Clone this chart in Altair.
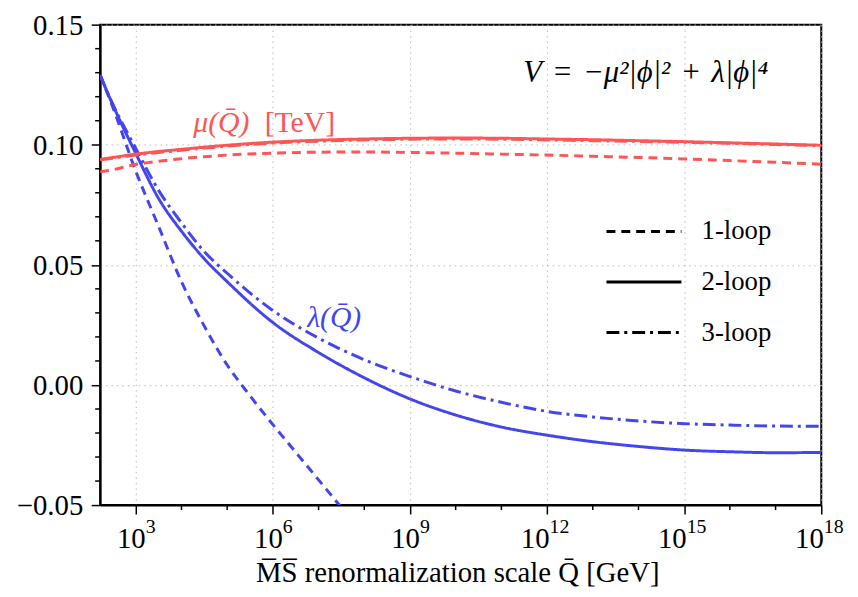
import altair as alt
import pandas as pd

# ---------------- data ----------------
logq = [2.22, 2.5, 3, 3.5, 4, 4.5, 5, 6, 7, 8, 9, 10, 11, 12, 13, 14, 15, 16, 17, 18]

lam_2loop = [0.129, 0.1165, 0.0964, 0.0776, 0.0640, 0.0525, 0.0430, 0.0260, 0.0135, 0.0030,
             -0.0058, -0.0125, -0.0175, -0.0209, -0.0236, -0.0256, -0.0271, -0.0278, -0.0282, -0.0281]
lam_3loop = [0.129, 0.1168, 0.0985, 0.0810, 0.0675, 0.0555, 0.0465, 0.0310, 0.0195, 0.0105,
             0.0035, -0.0025, -0.0072, -0.0110, -0.0133, -0.0150, -0.0161, -0.0167, -0.0171, -0.0172]

logq_lam1 = [2.22, 2.5, 3, 3.5, 4, 4.5, 5, 5.5, 6, 6.5, 7, 7.5, 8]
lam_1loop = [0.129, 0.1155, 0.089, 0.066, 0.043, 0.0245, 0.0083, -0.0045, -0.0165, -0.028, -0.0395, -0.051, -0.062]

mu_1loop = [0.0887, 0.0896, 0.0918, 0.0931, 0.0942, 0.0950, 0.0957, 0.0965, 0.0969, 0.0970,
            0.0968, 0.0965, 0.0961, 0.0957, 0.0952, 0.0947, 0.0941, 0.0934, 0.0927, 0.0919]
mu_2loop = [0.0939, 0.0947, 0.0961, 0.0972, 0.0981, 0.0990, 0.0998, 0.1011, 0.1019, 0.1024,
            0.1027, 0.1028, 0.1027, 0.1024, 0.1021, 0.1017, 0.1013, 0.1008, 0.1003, 0.0998]
mu_3loop = [0.0937, 0.0944, 0.0957, 0.0968, 0.0977, 0.0986, 0.0994, 0.1007, 0.1015, 0.1020,
            0.1023, 0.1024, 0.1023, 0.1020, 0.1017, 0.1014, 0.1010, 0.1006, 0.1001, 0.0996]

loops = ["1-loop", "2-loop", "3-loop"]
quantities = ["mu", "lambda"]
series_colors = ["#ff5555", "#4545ee"]
dash_patterns = [[9, 6], [1, 0], [13, 5, 3, 5]]

x_major_exp = [3, 6, 9, 12, 15, 18]
x_minor_exp = [4, 5, 7, 8, 10, 11, 13, 14, 16, 17]
y_major = [-0.05, 0.0, 0.05, 0.10, 0.15]
y_major_labels = ["\u22120.05", "0.00", "0.05", "0.10", "0.15"]
y_minor = [-0.04, -0.03, -0.02, -0.01, 0.01, 0.02, 0.03, 0.04, 0.06, 0.07, 0.08, 0.09,
           0.11, 0.12, 0.13, 0.14]
x_title = "M\u0305S\u0305 renormalization scale Q\u0304 [GeV]"

# legend rows and annotations (data coordinates)
legend_y = [0.0639, 0.0429, 0.0218]
legend_x_exp = [13.30, 14.94]
legend_label_exp = 15.38

FONT = "Liberation Serif"

# ---------------- tables ----------------
rows = []
def add(qs, vals, quantity, loop):
    for lq, v in zip(qs, vals):
        rows.append({"q": 10 ** lq, "value": v, "quantity": quantity, "loop": loop,
                     "series": quantity + loop})
add(logq_lam1, lam_1loop, "lambda", "1-loop")
add(logq, lam_2loop, "lambda", "2-loop")
add(logq, lam_3loop, "lambda", "3-loop")
add(logq, mu_1loop, "mu", "1-loop")
add(logq, mu_2loop, "mu", "2-loop")
add(logq, mu_3loop, "mu", "3-loop")
df = pd.DataFrame(rows)

xscale = alt.Scale(type="log", domain=[10 ** 2.22, 1e18])
yscale = alt.Scale(domain=[-0.05, 0.15])
dash_scale = alt.Scale(domain=loops, range=dash_patterns)

x_axis = alt.Axis(values=[10 ** e for e in x_major_exp], labels=False, tickSize=9, tickWidth=1.5,
                  tickColor="black", domainColor="black", domainWidth=2,
                  grid=True, gridDash=[1.5, 4], gridColor="#bbbbbb", gridWidth=1, title=None)
y_axis = alt.Axis(values=y_major, labels=False, tickSize=9, tickWidth=1.5, tickColor="black",
                  domainColor="black", domainWidth=2,
                  grid=True, gridDash=[1.5, 4], gridColor="#bbbbbb", gridWidth=1, title=None)

def X(field):
    return alt.X(field, scale=xscale, axis=x_axis)

def Y(field):
    return alt.Y(field, scale=yscale, axis=y_axis)

lines = alt.Chart(df).mark_line(strokeWidth=3, clip=True, interpolate="monotone").encode(
    x=X("q:Q"),
    y=Y("value:Q"),
    color=alt.Color("quantity:N", scale=alt.Scale(domain=quantities, range=series_colors), legend=None),
    strokeDash=alt.StrokeDash("loop:N", scale=dash_scale, legend=None),
    detail="series:N",
    order="q:Q",
)

# minor ticks
xminor_df = pd.DataFrame({"q": [10 ** e for e in x_minor_exp]})
xminor = alt.Chart(xminor_df).mark_rule(color="black", strokeWidth=1.5).encode(
    x=X("q:Q"), y=alt.value(485), y2=alt.value(490))
yminor_df = pd.DataFrame({"v": y_minor})
yminor = alt.Chart(yminor_df).mark_rule(color="black", strokeWidth=1.5).encode(
    y=Y("v:Q"), x=alt.value(-5), x2=alt.value(0))

# y tick labels
yl_df = pd.DataFrame({"v": y_major, "label": y_major_labels})
ylabels = alt.Chart(yl_df).mark_text(align="right", baseline="middle", font=FONT, fontSize=29,
                                     color="black", dy=1).encode(
    y=Y("v:Q"), x=alt.value(-17), text="label:N")

# x tick labels 10^n
xl_df = pd.DataFrame({"q": [10 ** e for e in x_major_exp],
                      "base": ["10"] * len(x_major_exp),
                      "exp": [str(e) for e in x_major_exp],
                      "two": [e >= 10 for e in x_major_exp]})
def tick_labels(two, dx):
    sub = xl_df[xl_df["two"] == two]
    base = alt.Chart(sub).mark_text(align="right", baseline="alphabetic", dx=dx, font=FONT,
                                    fontSize=29, color="black").encode(
        x=X("q:Q"), y=alt.value(528), text="base:N")
    expo = alt.Chart(sub).mark_text(align="left", baseline="alphabetic", dx=dx, font=FONT,
                                    fontSize=20, color="black").encode(
        x=X("q:Q"), y=alt.value(513), text="exp:N")
    return base + expo
xlabels1 = tick_labels(False, 10)
xlabels2 = tick_labels(True, 2.5)

# x axis title
title_df = pd.DataFrame({"text": [x_title]})
xtitle = alt.Chart(title_df).mark_text(align="center", baseline="alphabetic", font=FONT,
                                       fontSize=29, color="black").encode(
    x=alt.value(361), y=alt.value(563), text="text:N")

# legend
leg_df = pd.DataFrame({"loop": loops, "y": legend_y,
                       "x1": [10 ** legend_x_exp[0]] * 3, "x2": [10 ** legend_x_exp[1]] * 3,
                       "xl": [10 ** legend_label_exp] * 3})
leg_lines = alt.Chart(leg_df).mark_rule(color="black", strokeWidth=3).encode(
    x=X("x1:Q"), x2="x2:Q",
    y=Y("y:Q"),
    strokeDash=alt.StrokeDash("loop:N", scale=dash_scale, legend=None))
leg_text = alt.Chart(leg_df).mark_text(align="left", baseline="middle", font=FONT, fontSize=27,
                                       color="black").encode(
    x=X("xl:Q"), y=Y("y:Q"), text="loop:N")

# annotations
ann_df = pd.DataFrame({
    "text": ["\u03bc(Q\u0304)", "[TeV]", "\u03bb(Q\u0304)",
             "V\u2004=\u2004\u2212\u03bc\u00b2|\u03d5|\u00b2\u2004+\u2004\u03bb|\u03d5|\u2074"],
    "q": [10 ** 4.257, 10 ** 5.82, 10 ** 6.75, 10 ** 11.476],
    "v": [0.1055, 0.1055, 0.0243, 0.1261],
    "kind": ["mu", "mu_unit", "lambda", "pot"],
})
def ann(kind, color, style, size):
    return alt.Chart(ann_df[ann_df["kind"] == kind]).mark_text(
        align="left", baseline="alphabetic", font=FONT, fontSize=size, color=color, fontStyle=style
    ).encode(x=X("q:Q"), y=Y("v:Q"), text="text:N")
annotations = (ann("mu", series_colors[0], "italic", 30) + ann("mu_unit", series_colors[0], "normal", 30)
               + ann("lambda", series_colors[1], "italic", 30) + ann("pot", "black", "italic", 31))

chart = alt.layer(lines, xminor, yminor, ylabels, xlabels1, xlabels2, xtitle,
                  leg_lines, leg_text, annotations).properties(
    width=728, height=485,
    autosize=alt.AutoSizeParams(type="none"),
    padding={"left": 93, "top": 14, "right": 29, "bottom": 90},
).configure(font=FONT).configure_view(stroke="black", strokeWidth=2)

chart.save("out.html", embed_options={"renderer": "svg", "actions": False})
